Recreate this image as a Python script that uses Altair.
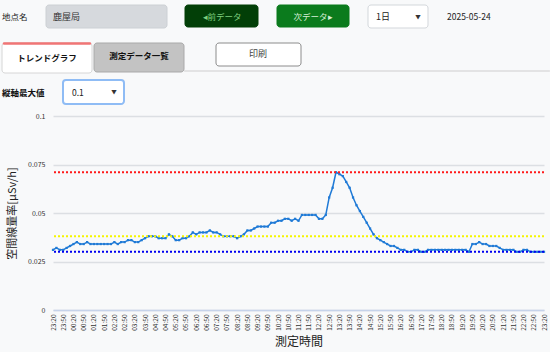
import altair as alt
import pandas as pd

# ---- data ----
start_time = "2025-05-23 23:20"
dose = [
    0.031, 0.032, 0.031, 0.031, 0.032, 0.033, 0.034, 0.035, 0.034, 0.034,
    0.035, 0.034, 0.034, 0.034, 0.034, 0.034, 0.034, 0.034, 0.035, 0.034,
    0.035, 0.035, 0.036, 0.036, 0.035, 0.035, 0.036, 0.037, 0.038, 0.038,
    0.038, 0.037, 0.037, 0.037, 0.039, 0.038, 0.036, 0.036, 0.037, 0.037,
    0.038, 0.040, 0.039, 0.040, 0.040, 0.040, 0.041, 0.040, 0.040, 0.039,
    0.038, 0.038, 0.038, 0.038, 0.037, 0.038, 0.039, 0.041, 0.041, 0.042,
    0.043, 0.043, 0.043, 0.043, 0.045, 0.045, 0.046, 0.046, 0.047, 0.047,
    0.046, 0.047, 0.046, 0.049, 0.049, 0.049, 0.049, 0.049, 0.047, 0.047,
    0.049, 0.058, 0.063, 0.071, 0.070, 0.069, 0.066, 0.063, 0.058, 0.054,
    0.051, 0.048, 0.045, 0.042, 0.039, 0.037, 0.036, 0.035, 0.034, 0.033,
    0.033, 0.032, 0.031, 0.031, 0.030, 0.030, 0.031, 0.031, 0.030, 0.030,
    0.031, 0.031, 0.031, 0.031, 0.031, 0.031, 0.031, 0.031, 0.031, 0.031,
    0.031, 0.031, 0.030, 0.034, 0.034, 0.035, 0.034, 0.034, 0.033, 0.033,
    0.033, 0.032, 0.031, 0.031, 0.031, 0.031, 0.030, 0.030, 0.031, 0.031,
    0.030, 0.030, 0.030, 0.030, 0.030,
]
threshold_names = ["上限", "平均", "下限"]
threshold_values = [0.071, 0.038, 0.030]
threshold_colors = ["#ff1a1a", "#f5f500", "#0000f0"]
y_ticks = [0, 0.025, 0.05, 0.075, 0.1]

times = pd.date_range(start_time, periods=len(dose), freq="10min")
df = pd.DataFrame({"time": times, "dose": dose})
tick_times = times[::3]
x_values = [alt.DateTime(year=t.year, month=t.month, date=t.day,
                         hours=t.hour, minutes=t.minute) for t in tick_times]

FONT = "Noto Sans CJK JP"
PL, PT = 53, 116  # plot origin in page pixels
W, H = 491, 194

x_enc = alt.X("time:T",
              scale=alt.Scale(domain=[x_values[0], x_values[-1]]),
              axis=alt.Axis(values=x_values, format="%H:%M", labelAngle=270,
                            labelFontSize=6.5, labelColor="#333", labelPadding=4,
                            ticks=False, grid=False, domainColor="#c6d3ea",
                            domainWidth=1.5, labelOverlap=False,
                            title="測定時間", titleFontSize=12,
                            titleFontWeight="normal", titleColor="#222",
                            titlePadding=6, labelFont=FONT, titleFont=FONT))
y_enc = alt.Y("dose:Q",
              scale=alt.Scale(domain=[0, 0.1], nice=False),
              axis=alt.Axis(values=y_ticks, format=".3~f", labelFontSize=7,
                            labelColor="#333", labelPadding=8, ticks=False,
                            domain=False, gridColor="#dcdfe3", gridWidth=1.5,
                            title="空間線量率[μSv/h]", titleFontSize=11,
                            titleFontWeight="normal", titleColor="#222",
                            titlePadding=10, labelFont=FONT, titleFont=FONT))

line = alt.Chart(df).mark_line(
    color="#1f7ad6", strokeWidth=1.5,
    point=alt.OverlayMarkDef(shape="square", size=5, filled=True, color="#1f7ad6"),
).encode(x=x_enc, y=y_enc)

thr = pd.DataFrame({"name": threshold_names, "value": threshold_values,
                    "color": threshold_colors})
rules = alt.Chart(thr).mark_rule(strokeDash=[2, 2], strokeWidth=2).encode(
    y=alt.Y("value:Q", scale=alt.Scale(domain=[0, 0.1], nice=False)),
    color=alt.Color("color:N", scale=None),
)

# ---- header UI (page pixel coordinates converted to plot coordinates) ----
boxes = pd.DataFrame([
    # x, y, x2, y2, fill, stroke, sw
    (46, 5, 167, 28, "#d6d9dd", "#ccd0d4", 1),
    (185, 5, 258, 27, "#023f07", "#023f07", 1),
    (277, 5, 349, 27, "#0b7b1d", "#0b7b1d", 1),
    (368, 5, 428, 28, "#ffffff", "#d3d7db", 1),
    (184, 70.5, 550, 71.5, "#dcdcdc", "#dcdcdc", 0.5),
    (2, 43, 92, 73, "#ffffff", "#d6d6d6", 1),
    (94, 43, 184, 72, "#c3c3c3", "#a9a9a9", 1),
    (216, 43, 301, 66, "#ffffff", "#8c8c8c", 1),
    (3, 42.5, 91, 44.5, "#f07575", "#f07575", 0.5),
    (63, 80, 124, 104, "#ffffff", "#8fbcf5", 2),
], columns=["x", "y", "x2", "y2", "fill", "stroke", "sw"])
for c in ["x", "x2"]:
    boxes[c] = boxes[c] - PL
for c in ["y", "y2"]:
    boxes[c] = boxes[c] - PT

box_layer = alt.Chart(boxes).mark_rect(cornerRadius=3).encode(
    x=alt.X("x:Q", scale=None), x2="x2:Q",
    y=alt.Y("y:Q", scale=None), y2="y2:Q",
    fill=alt.Fill("fill:N", scale=None),
    stroke=alt.Stroke("stroke:N", scale=None),
    strokeWidth=alt.StrokeWidth("sw:Q", scale=None),
)

texts = pd.DataFrame([
    # text, x, y, align, color, size, bold
    ("地点名", 2, 17, "left", "#222222", 8.5, False),
    ("鹿屋局", 53, 17, "left", "#333333", 9, False),
    ("◂前データ", 222, 17, "center", "#7fcf7f", 8.5, False),
    ("次データ▸", 313, 17, "center", "#d6efd6", 8.5, False),
    ("1日", 376, 17, "left", "#222222", 9, False),
    ("▼", 418, 17, "center", "#333333", 5.5, False),
    ("2025-05-24", 447, 17, "left", "#222222", 8.5, False),
    ("トレンドグラフ", 47, 58, "center", "#111111", 8.5, True),
    ("測定データ一覧", 139, 56, "center", "#111111", 8.5, True),
    ("印刷", 258, 54, "center", "#444444", 9, False),
    ("縦軸最大値", 2, 93, "left", "#111111", 8.5, True),
    ("0.1", 72, 93, "left", "#222222", 8.5, False),
    ("▼", 114, 92, "center", "#333333", 5.5, False),
], columns=["text", "x", "y", "align", "color", "size", "bold"])
texts["x"] = texts["x"] - PL
texts["y"] = texts["y"] - PT


def text_layer(sub, align, weight):
    return alt.Chart(sub).mark_text(align=align, baseline="middle", font=FONT,
                                    fontWeight=weight).encode(
        x=alt.X("x:Q", scale=None), y=alt.Y("y:Q", scale=None),
        text="text:N",
        color=alt.Color("color:N", scale=None),
        size=alt.Size("size:Q", scale=None),
    )


text_layers = []
for align in ["left", "center"]:
    for bold in [False, True]:
        sub = texts[(texts["align"] == align) & (texts["bold"] == bold)]
        if len(sub):
            text_layers.append(text_layer(sub, align, "bold" if bold else "normal"))

chart = alt.layer(line, rules, box_layer, *text_layers).resolve_scale(
    x="shared", y="shared"
).properties(
    width=W, height=H,
    autosize=alt.AutoSizeParams(type="none"),
    padding={"left": PL, "top": PT, "right": 550 - PL - W, "bottom": 352 - PT - H},
    background="#f8f9fa",
).configure_view(stroke=None)

chart.save("out.html", embed_options={"renderer": "svg", "actions": False})
